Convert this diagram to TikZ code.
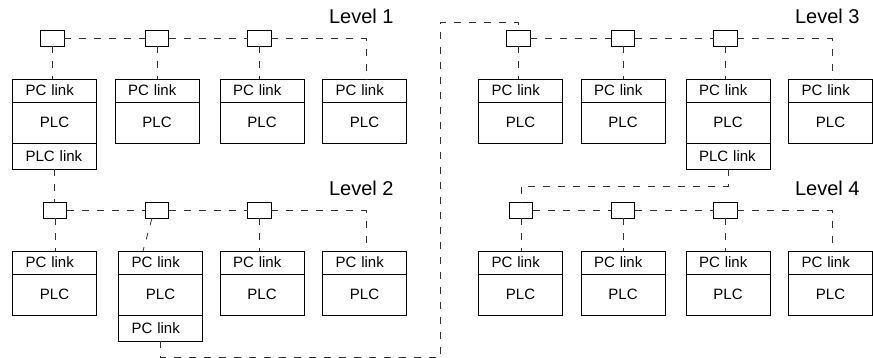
\documentclass[tikz,border=0pt]{standalone}
\usepackage{fontspec}
\setmainfont{Liberation Sans}
\usetikzlibrary{positioning}

\begin{document}
\begin{tikzpicture}[x=1pt,y=-1pt,
 every node/.style={font=\fontsize{15}{18}\selectfont,outer sep=0pt},
 pcbox/.style={draw,line width=0.8pt,text width=58pt,inner xsep=13pt,inner ysep=0pt,align=left,minimum height=23pt},
 plcbox/.style={draw,line width=0.8pt,minimum width=84pt,minimum height=41pt,inner sep=0pt},
 extbox/.style={pcbox,minimum height=26pt},
 hub/.style={draw,line width=0.8pt,fill=white,minimum width=23.5pt,minimum height=15.5pt,inner sep=0pt},
 net/.style={black!80,line width=0.8pt,dash pattern=on 7pt off 8pt},
 levelname/.style={font=\fontsize{20}{24}\selectfont,anchor=east,inner sep=0pt}]
\useasboundingbox (0,0) rectangle (873,358);
\foreach \lv/\dx/\dy/\hx/\bx in {1/0/0/52.5/115,2/0/172/55/118.5,3/466/0/52.5/115,4/466/172/55/115} {
 \node[levelname] (name\lv) at ({\dx+393.5},{\dy+16.5}) {Level \lv};
 \foreach \x [count=\i] in {12.5,\bx,220,322.5} {
  \node[pcbox,anchor=north west] (pc\lv-\i) at ({\dx+\x},{\dy+79}) {PC link};
  \node[plcbox,below=0pt of pc\lv-\i] (plc\lv-\i) {PLC};
 }
 \foreach \x [count=\i] in {\hx,157,259.5} {
  \node[hub] (hub\lv-\i) at ({\dx+\x},{\dy+38.5}) {};
 }
 \coordinate (end\lv) at ({\dx+366},{\dy+38.5});
 \draw[net] (hub\lv-1.east) -- (hub\lv-2.west);
 \draw[net] (hub\lv-2.east) -- (hub\lv-3.west);
 \draw[net] (hub\lv-3.east) -- (end\lv) -- (end\lv |- pc\lv-4.north);
 \foreach \i in {1,2,3} {
  \ifnum\lv\i=22 \else
  \draw[net] (hub\lv-\i.south) -- (hub\lv-\i.south |- pc\lv-\i.north);
  \fi
 }
}
\draw[net] ([xshift=-5pt]hub2-2.south) -- ([xshift=24.5pt]pc2-2.north west);

\node[extbox,below=0pt of plc1-1] (ext1) {PLC link};
\node[extbox,below=0pt of plc2-2] (ext2) {PC link};
\node[extbox,below=0pt of plc3-3] (ext3) {PLC link};

\coordinate (loopa) at (440.5,357.5);
\coordinate (loopb) at (440.5,22.5);
\draw[net] (ext1.south) -- (ext1.south |- hub2-1.north);
\draw[net] (ext2.south) |- (loopa) -- (loopb) -| (hub3-1.north);
\draw[net] (ext3.south) -- ++(0,17) -| (hub4-1.north);
\end{tikzpicture}
\end{document}
